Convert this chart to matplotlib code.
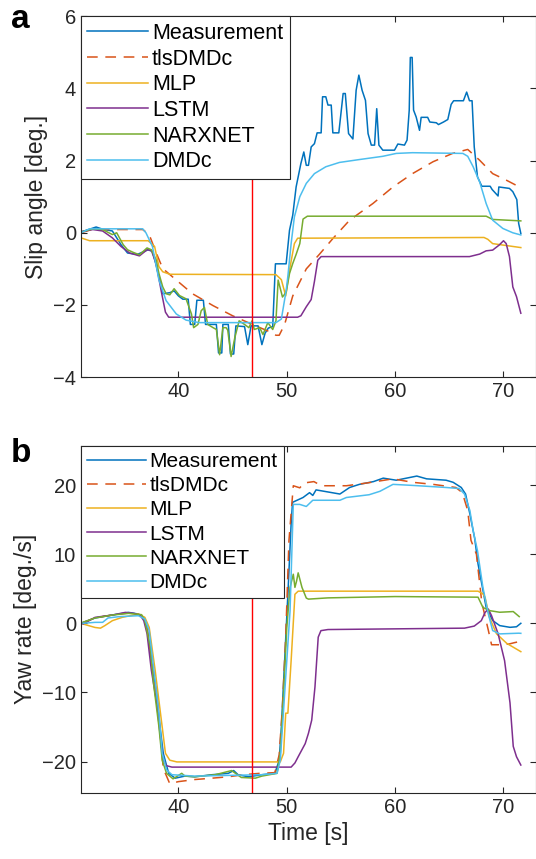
import matplotlib
matplotlib.use('Agg')
import matplotlib.pyplot as plt

plt.rcParams['font.family'] = ['Liberation Sans', 'DejaVu Sans']

labels = ['Measurement', 'tlsDMDc', 'MLP', 'LSTM', 'NARXNET', 'DMDc']
colors = ['#0072BD', '#D95319', '#EDB120', '#7E2F8E', '#77AC30', '#4DBEEE']
t_split = 46.8

# ---- (a) slip angle [deg.] ----
t_meas_a = [31.0, 31.8, 32.4, 33.0, 33.9, 34.7, 35.3, 36.2, 37.2, 37.6, 37.9, 38.2, 38.55, 39.2, 39.6,
            40.0, 40.4, 40.9, 41.1, 41.5, 41.7, 42.3, 42.5, 43.5, 43.7, 44.0, 44.1, 44.6, 44.8, 45.1,
            45.3, 46.1, 46.4, 46.7, 47.35, 47.7, 48.0, 48.3, 48.7, 48.95, 49.94, 50.25, 50.55, 50.86,
            51.3, 51.57, 51.8, 52.0, 52.25, 52.55, 52.8, 53.17, 53.3, 53.6, 53.8, 54.1, 54.25, 54.8,
            55.2, 55.4, 55.7, 56.1, 56.4, 56.65, 56.95, 57.26, 57.5, 57.8, 58.1, 58.3, 58.5, 58.86,
            59.94, 60.25, 60.86, 61.1, 61.3, 61.4, 61.57, 61.7, 61.94, 62.25, 62.4, 63.0, 63.2, 63.8,
            64.0, 64.46, 64.86, 65.17, 65.4, 66.3, 66.6, 66.86, 67.1, 67.3, 67.6, 68.0, 68.77, 68.95,
            69.5, 69.57, 70.55, 70.86, 71.23, 71.4, 71.6]
y_meas_a = [0.02, 0.1, 0.16, 0.1, 0.05, -0.33, -0.56, -0.6, -0.47, -0.52, -0.85, -1.22, -1.69, -1.66, -1.61,
            -1.75, -1.84, -1.84, -2.54, -2.54, -1.87, -1.87, -2.54, -2.54, -3.33, -3.33, -2.54, -2.54, -3.36, -3.36,
            -2.58, -2.6, -3.1, -2.58, -2.58, -3.1, -2.78, -2.64, -2.6, -0.86, -0.86, 0.07, 0.49, 1.27,
            1.92, 2.24, 1.87, 1.87, 2.38, 2.47, 2.77, 2.77, 3.77, 3.77, 3.54, 3.54, 2.77, 2.77,
            3.86, 3.86, 2.75, 2.6, 3.95, 4.37, 3.95, 3.67, 2.75, 2.43, 2.43, 3.44, 2.43, 2.29,
            2.29, 2.46, 2.43, 2.57, 3.4, 4.86, 4.86, 3.4, 3.21, 2.84, 3.2, 3.2, 3.07, 3.05,
            3.0, 3.07, 3.14, 3.56, 3.66, 3.66, 3.9, 3.66, 3.66, 2.38, 1.55, 1.29, 1.29, 1.2,
            1.02, 1.27, 1.23, 1.14, 0.92, 0.26, -0.02]

t_tls_a = [31.0, 32.0, 36.7, 37.3, 37.9, 38.55, 39.8, 41.3, 43.2, 45.0, 46.9, 48.4, 49.0, 49.3, 49.8,
           50.55, 51.8, 53.0, 54.25, 55.8, 57.94, 59.8, 61.6, 63.5, 65.3, 66.7, 67.8, 69.0, 70.25, 71.6]
y_tls_a = [0.0, 0.09, 0.09, -0.05, -0.52, -0.99, -1.31, -1.69, -2.02, -2.3, -2.55, -2.74, -2.84, -2.84, -2.54,
           -1.75, -1.0, -0.6, -0.16, 0.35, 0.81, 1.27, 1.64, 1.97, 2.2, 2.31, 2.01, 1.64, 1.46, 1.25]

t_mlp_a = [31.0, 31.8, 37.2, 37.8, 38.2, 38.55, 39.2, 49.0, 49.5, 49.9, 50.25, 50.7, 51.0, 68.2, 68.55,
           69.0, 71.6]
y_mlp_a = [-0.14, -0.22, -0.22, -0.38, -0.94, -1.08, -1.15, -1.16, -1.3, -1.75, -1.03, -0.3, -0.15, -0.13, -0.18,
           -0.3, -0.41]

t_lstm_a = [31.0, 32.1, 33.0, 33.9, 34.7, 35.5, 36.4, 37.1, 37.5, 37.94, 38.4, 38.8, 39.1, 51.0, 51.3,
            51.8, 52.25, 52.55, 52.86, 53.17, 66.86, 67.8, 68.4, 69.0, 69.6, 70.0, 70.25, 70.55, 70.86,
            71.2, 71.6]
y_lstm_a = [0.03, 0.09, 0.05, -0.14, -0.38, -0.56, -0.64, -0.47, -0.49, -0.85, -1.6, -2.2, -2.34, -2.34, -2.3,
            -2.05, -1.85, -1.35, -0.76, -0.66, -0.66, -0.59, -0.5, -0.48, -0.34, -0.22, -0.3, -0.66, -1.5,
            -1.77, -2.23]

t_narx_a = [31.0, 32.1, 33.0, 33.9, 34.3, 34.9, 35.3, 35.8, 36.4, 37.1, 37.5, 37.94, 38.2, 38.55, 38.86,
            39.2, 39.6, 40.1, 40.7, 41.2, 41.4, 41.8, 42.1, 42.4, 42.7, 43.2, 43.5, 43.8, 44.1, 44.4,
            44.55, 44.86, 45.2, 45.6, 46.1, 46.5, 46.8, 47.0, 47.5, 47.8, 48.25, 48.7, 49.0, 49.2, 49.6,
            49.94, 50.25, 50.55, 50.86, 51.2, 51.5, 51.9, 68.4, 69.0, 71.6]
y_narx_a = [0.02, 0.11, 0.09, -0.05, 0.0, -0.33, -0.47, -0.54, -0.61, -0.42, -0.47, -0.75, -1.13, -1.5, -1.69,
            -1.72, -1.55, -1.74, -1.83, -2.25, -2.63, -2.54, -2.16, -2.07, -2.54, -2.63, -2.68, -3.38, -2.63, -2.63,
            -2.7, -3.43, -2.91, -2.44, -2.54, -2.63, -2.44, -2.68, -2.63, -2.82, -2.49, -2.68, -2.44, -1.31, -1.78,
            -1.65, -1.13, -0.85, -0.6, -0.3, 0.38, 0.46, 0.46, 0.37, 0.33]

t_dmdc_a = [31.0, 31.8, 36.7, 37.0, 37.6, 38.2, 38.86, 39.8, 40.7, 41.9, 49.0, 49.5, 49.94, 50.1, 50.4,
            50.7, 51.2, 51.8, 52.55, 53.6, 54.86, 56.7, 58.86, 60.1, 61.6, 66.25, 66.7, 67.2, 67.8, 68.4,
            69.0, 69.94, 70.86, 71.6]
y_dmdc_a = [0.0, 0.11, 0.11, 0.0, -0.38, -1.31, -1.88, -2.25, -2.42, -2.49, -2.49, -2.39, -1.6, -1.2, -0.3,
            0.44, 1.0, 1.37, 1.64, 1.83, 1.95, 2.03, 2.12, 2.2, 2.22, 2.2, 2.12, 1.83, 1.41, 0.81,
            0.35, 0.12, 0.0, -0.06]

# ---- (b) yaw rate [deg./s] ----
t_meas_b = [31.2, 32.3, 33.9, 35.4, 36.3, 36.8, 37.1, 37.5, 38.0, 38.3, 38.6, 39.1, 39.7, 40.6, 41.5,
            43.1, 44.6, 45.1, 45.5, 46.45, 47.7, 48.9, 49.3, 49.5, 49.8, 50.1, 50.4, 50.53, 51.5, 52.1,
            52.4, 52.7, 54.9, 55.8, 56.7, 58.0, 58.9, 60.1, 62.0, 62.9, 64.7, 65.35, 66.1, 66.5, 66.9,
            67.35, 67.65, 68.4, 69.0, 69.65, 70.6, 71.2, 71.6]
y_meas_b = [0.14, 0.77, 1.2, 1.58, 1.34, 0.86, -0.58, -5.37, -10.2, -15.0, -18.8, -21.7, -22.4, -22.1, -22.2,
            -21.9, -21.7, -21.3, -21.9, -22.2, -21.9, -21.7, -19.8, -15.0, -5.4, 4.2, 14.4, 17.5, 18.2, 18.9,
            18.5, 19.3, 18.7, 19.65, 20.1, 20.5, 21.0, 20.7, 21.3, 20.9, 20.7, 20.4, 19.65, 18.7, 15.8,
            12.2, 8.6, 2.3, 0.4, -0.33, -0.58, -0.5, 0.0]

t_tls_b = [31.2, 32.3, 33.9, 35.4, 36.3, 36.8, 37.1, 37.5, 38.0, 38.3, 38.6, 39.2, 40.0, 41.5, 43.1,
           44.6, 46.0, 47.5, 48.9, 49.3, 49.6, 49.9, 50.2, 50.6, 51.2, 51.6, 52.5, 53.2, 54.0, 55.5,
           57.4, 59.8, 61.6, 63.5, 65.6, 66.2, 66.7, 67.0, 67.5, 68.0, 68.6, 68.9, 69.8, 70.5, 71.0, 71.6]
y_tls_b = [0.1, 0.8, 1.2, 1.5, 1.3, 0.8, -0.6, -5.2, -10.5, -15.5, -21.0, -23.2, -22.9, -22.6, -22.4,
           -22.2, -21.9, -21.7, -21.6, -19.0, -12.0, -2.0, 12.0, 19.9, 19.6, 20.3, 20.5, 19.9, 19.9, 19.9,
           20.3, 20.9, 20.4, 20.1, 19.65, 18.9, 16.3, 12.0, 10.0, 3.0, -1.0, -3.1, -3.1, -3.0, -2.8, -2.6]

t_mlp_b = [31.2, 32.3, 32.8, 33.2, 33.9, 34.8, 36.3, 36.9, 37.3, 37.85, 38.5, 38.8, 39.2, 39.85, 49.4,
           49.7, 49.9, 50.1, 50.4, 50.75, 51.05, 67.65, 68.1, 68.3, 68.7, 69.35, 70.3, 71.6]
y_mlp_b = [-0.1, -0.6, -0.7, -0.34, 0.38, 0.86, 1.34, 0.86, -0.58, -6.8, -15.0, -18.8, -19.8, -20.05, -20.05,
           -18.8, -13.0, -13.0, -5.4, 4.2, 4.65, 4.65, 4.26, 3.76, 0.87, -1.5, -2.9, -4.1]

t_lstm_b = [31.2, 32.3, 33.9, 35.1, 35.9, 36.5, 36.8, 37.1, 37.5, 38.0, 38.4, 38.6, 38.9, 39.4, 50.4,
            50.75, 51.05, 51.7, 52.0, 52.3, 52.6, 52.9, 53.15, 53.8, 66.4, 67.3, 67.95, 68.3, 68.6, 68.9,
            69.5, 70.1, 70.6, 70.9, 71.2, 71.6]
y_lstm_b = [-0.1, 0.86, 1.2, 1.58, 1.44, 1.1, 0.38, -1.5, -6.8, -11.6, -17.4, -19.8, -20.6, -20.8, -20.8,
            -20.2, -19.3, -17.4, -15.9, -14.0, -9.2, -2.0, -1.06, -0.9, -0.7, -0.4, 0.38, 1.58, 2.06, 1.1,
            -1.5, -5.4, -11.5, -17.8, -19.3, -20.5]

t_narx_b = [31.2, 32.3, 33.9, 35.4, 36.6, 36.9, 37.4, 37.7, 38.2, 38.5, 38.9, 39.5, 40.3, 40.6, 41.5,
            43.4, 44.9, 45.8, 47.1, 47.7, 49.1, 49.4, 49.7, 50.0, 50.3, 50.6, 50.75, 50.9, 51.05, 51.4,
            51.8, 52.0, 53.8, 60.0, 67.65, 68.1, 68.7, 69.65, 70.9, 71.45]
y_narx_b = [0.14, 0.77, 1.2, 1.44, 1.25, 0.38, -3.45, -8.7, -15.0, -19.8, -21.7, -22.5, -21.7, -22.1, -22.2,
            -21.9, -21.3, -22.3, -22.4, -22.1, -21.7, -18.8, -10.2, -0.6, 5.2, 7.1, 5.2, 6.1, 7.3, 5.2,
            3.65, 3.5, 3.68, 3.87, 3.78, 2.3, 1.84, 1.6, 1.7, 0.97]

t_dmdc_b = [31.2, 32.3, 33.0, 33.5, 34.5, 36.3, 36.9, 37.3, 37.7, 38.2, 38.5, 38.9, 39.4, 41.5, 47.7,
            49.1, 49.4, 49.8, 50.3, 50.6, 51.2, 51.8, 52.4, 54.9, 55.5, 57.6, 58.6, 59.8, 61.6, 64.7,
            65.9, 66.4, 66.9, 67.2, 67.6, 68.1, 68.6, 69.0, 69.65, 71.4, 71.6]
y_dmdc_b = [0.0, 0.14, 0.14, 0.77, 0.96, 1.1, 0.62, -1.06, -6.3, -13.0, -18.8, -21.2, -21.9, -22.1, -21.9,
            -21.7, -19.8, -10.2, 1.8, 17.2, 17.2, 16.9, 17.8, 17.8, 18.2, 18.6, 19.1, 20.1, 19.95, 19.65,
            19.5, 18.7, 16.3, 13.4, 10.5, 5.2, 1.36, -1.05, -1.53, -1.43, -1.45]

series_a = [(t_meas_a, y_meas_a), (t_tls_a, y_tls_a), (t_mlp_a, y_mlp_a),
            (t_lstm_a, y_lstm_a), (t_narx_a, y_narx_a), (t_dmdc_a, y_dmdc_a)]
series_b = [(t_meas_b, y_meas_b), (t_tls_b, y_tls_b), (t_mlp_b, y_mlp_b),
            (t_lstm_b, y_lstm_b), (t_narx_b, y_narx_b), (t_dmdc_b, y_dmdc_b)]


def draw(ax, series, ylabel, ylim, yticks, legsize, legspace):
    for (t, y), lab, c in zip(series, labels, colors):
        ls = (0, (7, 5)) if lab == 'tlsDMDc' else '-'
        ax.plot(t, y, color=c, lw=1.1, ls=ls, label=lab)
    ax.axvline(t_split, color='#FF0000', lw=1.0)
    ax.set_xlim(31, 73)
    ax.set_ylim(*ylim)
    ax.set_xticks([40, 50, 60, 70])
    ax.set_yticks(yticks)
    ax.set_ylabel(ylabel, fontsize=16.5, color='#262626')
    ax.tick_params(direction='in', length=4, width=0.8, labelsize=14.5,
                   top=True, right=True, colors='#262626')
    for s in ax.spines.values():
        s.set_color('#262626')
        s.set_linewidth(0.8)
    leg = ax.legend(loc='upper left', fontsize=legsize, borderaxespad=0, fancybox=False,
                    edgecolor='#262626', framealpha=1, handlelength=2.8, handletextpad=0.2,
                    labelspacing=legspace, borderpad=0.3)
    leg.get_frame().set_linewidth(0.8)


fig = plt.figure(figsize=(5.36, 8.59), dpi=100)
ax1 = fig.add_axes([0.151, 0.561, 0.849, 0.420])
ax2 = fig.add_axes([0.151, 0.0772, 0.849, 0.404])

draw(ax1, series_a, 'Slip angle [deg.]', (-4, 6), [-4, -2, 0, 2, 4, 6], 15.5, 0.22)
draw(ax2, series_b, 'Yaw rate [deg./s]', (-24.5, 25.7), [-20, -10, 0, 10, 20], 15, 0.25)
ax2.set_xlabel('Time [s]', fontsize=16.5, color='#262626')

fig.text(0.02, 0.995, 'a', fontsize=24, fontweight='bold', va='top')
fig.text(0.02, 0.49, 'b', fontsize=24, fontweight='bold', va='top')

fig.savefig('out.png', dpi=100)
